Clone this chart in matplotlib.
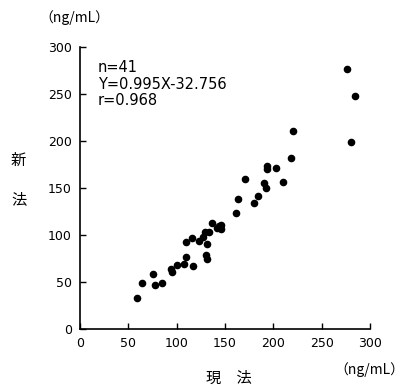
import matplotlib
matplotlib.use("Agg")
import matplotlib.pyplot as plt

plt.rcParams['font.family'] = ['DejaVu Sans', 'Noto Sans CJK JP']

# current method (x) vs new method (y), ng/mL
current = [59.3, 64.5, 75.9, 77.9, 85.2, 94.1, 95.5, 100.7, 107.9, 109.3,
           110.0, 116.9, 115.9, 123.1, 127.6, 129.7, 133.1, 131.0, 130.0, 131.4,
           136.9, 142.1, 145.5, 145.5, 144.0, 161.4, 163.8, 171.0, 179.7, 184.1,
           190.3, 192.4, 193.1, 193.1, 202.4, 209.7, 218.6, 220.3, 275.9, 284.1,
           280.0]
new = [33.0, 48.7, 57.9, 46.9, 48.7, 63.3, 60.4, 67.9, 68.6, 76.8,
       92.4, 67.2, 96.7, 93.1, 98.1, 103.4, 103.4, 90.3, 78.2, 74.3,
       113.0, 107.7, 110.9, 106.6, 109.0, 123.0, 138.6, 159.9, 134.3, 141.8,
       155.6, 149.6, 169.9, 173.4, 171.6, 156.7, 181.6, 211.1, 276.8, 248.4,
       199.0]
ticks = [0, 50, 100, 150, 200, 250, 300]
stats_text = "n=41\nY=0.995X-32.756\nr=0.968"
cjk = ['Noto Sans CJK JP', 'DejaVu Sans']

fig = plt.figure(figsize=(4.13, 3.92), dpi=100)
ax = fig.add_axes([0.194, 0.161, 0.702, 0.719])

ax.scatter(current, new, s=20, color='black', zorder=3)

ax.set_xlim(0, 300)
ax.set_ylim(0, 300)
ax.set_xticks(ticks)
ax.set_yticks(ticks)
ax.tick_params(direction='in', length=4, width=1, labelsize=9, pad=6)
for s in ['top', 'right']:
    ax.spines[s].set_visible(False)
for s in ['left', 'bottom']:
    ax.spines[s].set_linewidth(1.2)

ax.text(0.06, 0.955, stats_text, transform=ax.transAxes, fontsize=10.5,
        va='top', ha='left', linespacing=1.15)

# axis labels and units
fig.text(0.18, 0.955, "（ng/mL）", fontsize=10, ha='center', va='center', family=cjk)
fig.text(0.895, 0.058, "（ng/mL）", fontsize=10, ha='center', va='center', family=cjk)
fig.text(0.045, 0.59, "新", fontsize=11, ha='center', va='center', family=cjk)
fig.text(0.045, 0.49, "法", fontsize=11, ha='center', va='center', family=cjk)
fig.text(0.555, 0.035, "現　法", fontsize=11, ha='center', va='center', family=cjk)

fig.savefig("out.png", dpi=100)
